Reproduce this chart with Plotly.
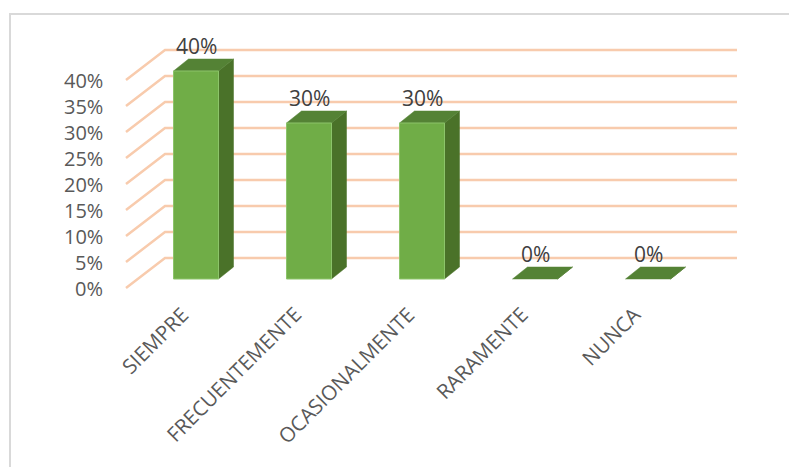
import plotly.graph_objects as go

categories = ["SIEMPRE", "FRECUENTEMENTE", "OCASIONALMENTE", "RARAMENTE", "NUNCA"]
values = [40, 30, 30, 0, 0]
y_ticks = [0, 5, 10, 15, 20, 25, 30, 35, 40]

# Pixel geometry of the oblique 3D projection (Excel-style 3D column chart)
W, H = 789, 467
PX_PER_CAT = 113.0      # horizontal spacing between categories
PX_PER_PCT = 5.2        # vertical pixels per percentage point
X0_PX = 196.0           # pixel x of first category (front-face centre)
Y0_PX = 279.0           # pixel y of the 0% level on the bar front plane

def ux(px):
    return px / PX_PER_CAT

def uy(px):
    return px / PX_PER_PCT

x_range = [ux(-X0_PX), ux(W - X0_PX)]
y_range = [-uy(H - Y0_PX), uy(Y0_PX)]

half_w = ux(22.5)                 # half width of bar front face
bar_dx, bar_dy = ux(15), uy(12)   # bar depth offset
wall_dy = uy(21)                  # back wall offset from bar front plane
floor_front_dy = -uy(9)           # floor front edge below bar front plane
wall_x0, wall_x1 = ux(165 - X0_PX), ux(737 - X0_PX)
floor_x0 = ux(126 - X0_PX)

FRONT = "#70AD47"
SIDE = "#4A7229"
TOP = "#548235"
GRID = "#F8CBAD"

fig = go.Figure()

# Gridlines: slanted floor part on the left side wall, horizontal on back wall
for t in y_ticks:
    fig.add_trace(go.Scatter(
        x=[floor_x0, wall_x0, wall_x1],
        y=[t + floor_front_dy, t + wall_dy, t + wall_dy],
        mode="lines", line=dict(color=GRID, width=2.5),
        hoverinfo="skip", showlegend=False,
    ))

# 3D columns: side face, top face, front face
for i, v in enumerate(values):
    xl, xr = i - half_w, i + half_w
    fig.add_trace(go.Scatter(
        x=[xr, xr + bar_dx, xr + bar_dx, xr, xr],
        y=[0, bar_dy, v + bar_dy, v, 0],
        fill="toself", fillcolor=SIDE, mode="lines",
        line=dict(color=SIDE, width=0.5),
        hoverinfo="skip", showlegend=False,
    ))
    fig.add_trace(go.Scatter(
        x=[xl, xl + bar_dx, xr + bar_dx, xr, xl],
        y=[v, v + bar_dy, v + bar_dy, v, v],
        fill="toself", fillcolor=TOP, mode="lines",
        line=dict(color=TOP, width=0.5),
        hoverinfo="skip", showlegend=False,
    ))
    if v > 0:
        fig.add_trace(go.Scatter(
            x=[xl, xr, xr, xl, xl],
            y=[0, 0, v, v, 0],
            fill="toself", fillcolor=FRONT, mode="lines",
            line=dict(color="#8CC46A", width=1),
            hoverinfo="skip", showlegend=False,
        ))

annotations = []
FONT = "Open Sans"

# Value axis labels
for t in y_ticks:
    annotations.append(dict(
        x=ux(105 - X0_PX), y=t + floor_front_dy, xref="x", yref="y",
        text=f"{t}%", showarrow=False, xanchor="right", yanchor="middle",
        font=dict(family=FONT, size=20, color="#595959"),
    ))

# Data labels
for i, v in enumerate(values):
    annotations.append(dict(
        x=i, y=v + uy(25), xref="x", yref="y",
        text=f"{v}%", showarrow=False, xanchor="center", yanchor="middle",
        font=dict(family=FONT, size=21, color="#404040"),
    ))

# Category labels, rotated
for i, c in enumerate(categories):
    annotations.append(dict(
        x=i + ux(1), y=-uy(19), xref="x", yref="y",
        text=c, showarrow=False, textangle=-45,
        xanchor="right", yanchor="top",
        font=dict(family=FONT, size=20.5, color="#595959"),
    ))

fig.update_layout(
    width=W, height=H,
    margin=dict(l=0, r=0, t=0, b=0),
    paper_bgcolor="white", plot_bgcolor="white",
    xaxis=dict(range=x_range, visible=False, fixedrange=True),
    yaxis=dict(range=y_range, visible=False, fixedrange=True),
    annotations=annotations,
    shapes=[dict(
        type="rect", xref="paper", yref="paper",
        x0=10 / W, x1=1.05, y0=-0.05, y1=1 - 14 / H,
        line=dict(color="#D9D9D9", width=2), layer="below",
    )],
    showlegend=False,
)

fig.write_html("out.html", config={"displayModeBar": False})
